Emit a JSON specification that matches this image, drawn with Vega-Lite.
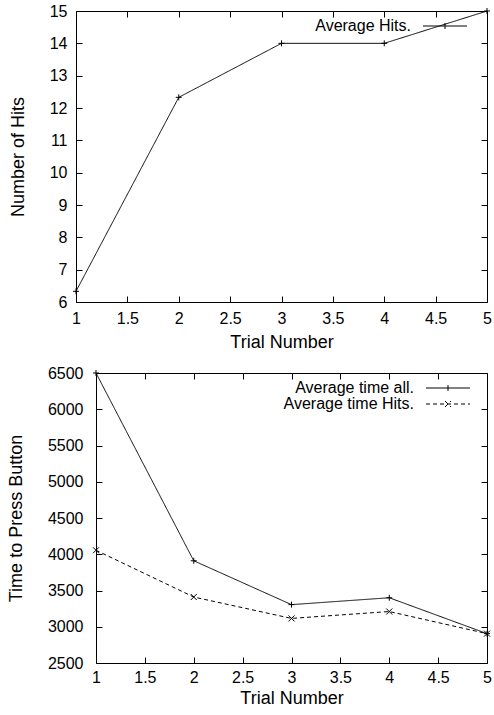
{
  "$schema": "https://vega.github.io/schema/vega-lite/v6.json",
  "background": "white",
  "padding": {"left": 7, "top": 2, "right": 0, "bottom": 0},
  "datasets": {
    "hits": [
      {"series": "Average Hits.", "trial": 1, "value": 6.33},
      {"series": "Average Hits.", "trial": 2, "value": 12.33},
      {"series": "Average Hits.", "trial": 3, "value": 14},
      {"series": "Average Hits.", "trial": 4, "value": 14},
      {"series": "Average Hits.", "trial": 5, "value": 15}
    ],
    "times": [
      {"series": "Average time all.", "trial": 1, "value": 6500},
      {"series": "Average time all.", "trial": 2, "value": 3910},
      {"series": "Average time all.", "trial": 3, "value": 3305},
      {"series": "Average time all.", "trial": 4, "value": 3400},
      {"series": "Average time all.", "trial": 5, "value": 2905},
      {"series": "Average time Hits.", "trial": 1, "value": 4055},
      {"series": "Average time Hits.", "trial": 2, "value": 3410},
      {"series": "Average time Hits.", "trial": 3, "value": 3115},
      {"series": "Average time Hits.", "trial": 4, "value": 3210},
      {"series": "Average time Hits.", "trial": 5, "value": 2905}
    ]
  },
  "config": {
    "font": "Liberation Sans",
    "view": {"stroke": "black", "strokeWidth": 1},
    "axis": {
      "grid": false,
      "domain": false,
      "domainColor": "black",
      "domainWidth": 1,
      "tickColor": "black",
      "tickSize": -6,
      "labelColor": "black",
      "titleColor": "black",
      "labelFont": "Liberation Sans",
      "titleFont": "Liberation Sans",
      "labelFontSize": 16,
      "titleFontSize": 18,
      "titleFontWeight": "normal",
      "labelFlush": false,
      "labelOverlap": false
    },
    "legend": {
      "title": null,
      "orient": "top-right",
      "offset": 7,
      "padding": 0,
      "labelFont": "Liberation Sans",
      "labelFontSize": 16,
      "labelColor": "black",
      "labelAlign": "right",
      "labelOffset": -42,
      "labelLimit": 300,
      "symbolSize": 225,
      "symbolStrokeWidth": 1,
      "symbolStrokeColor": "black",
      "rowPadding": 0
    }
  },
  "spacing": 13,
  "resolve": {
    "scale": {"x": "independent", "y": "independent", "strokeDash": "independent"},
    "legend": {"strokeDash": "independent"}
  },
  "vconcat": [
    {
      "width": 411,
      "height": 291,
      "data": {"name": "hits"},
      "layer": [
        {
          "mark": {"type": "line", "color": "black", "strokeWidth": 1},
          "encoding": {
            "x": {"field": "trial", "type": "quantitative", "scale": {"domain": [1, 5], "nice": false, "zero": false},
                  "axis": {"orient": "bottom", "values": [1, 1.5, 2, 2.5, 3, 3.5, 4, 4.5, 5], "format": "~f", "title": "Trial Number", "labelPadding": 14, "titlePadding": 7}},
            "y": {"field": "value", "type": "quantitative", "scale": {"domain": [6, 15], "nice": false, "zero": false},
                  "axis": {"orient": "left", "values": [6, 7, 8, 9, 10, 11, 12, 13, 14, 15], "format": "~f", "title": "Number of Hits", "labelPadding": 15, "titlePadding": 22}},
            "strokeDash": {"field": "series", "type": "nominal", "scale": {"domain": ["Average Hits."], "range": [[1, 0]]},
                  "legend": {"symbolType": "M-2.93,0H2.93M0,-0.4V0.4M4.3,0",
                             "encode": {"symbols": {"update": {"shape": {"value": "M-2.93,0H2.93M0,-0.4V0.4M4.3,0"}, "fill": {"value": "transparent"}}}}}}
          }
        },
        {
          "mark": {"type": "point", "shape": "M-1,0H1M0,-1V1", "filled": false, "color": "black", "strokeWidth": 1, "size": 36, "opacity": 1},
          "encoding": {
            "x": {"field": "trial", "type": "quantitative",
                  "axis": {"orient": "top", "values": [1, 1.5, 2, 2.5, 3, 3.5, 4, 4.5, 5], "labels": false, "title": null}},
            "y": {"field": "value", "type": "quantitative",
                  "axis": {"orient": "right", "values": [6, 7, 8, 9, 10, 11, 12, 13, 14, 15], "labels": false, "title": null}}
          }
        }
      ]
    },
    {
      "width": 411,
      "height": 290,
      "view": {"stroke": null},
      "data": {"name": "times"},
      "layer": [
        {
          "mark": {"type": "line", "color": "black", "strokeWidth": 1},
          "encoding": {
            "x": {"field": "trial", "type": "quantitative", "scale": {"domain": [1, 5], "range": [20, 411], "nice": false, "zero": false},
                  "axis": {"orient": "bottom", "domain": true, "values": [1, 1.5, 2, 2.5, 3, 3.5, 4, 4.5, 5], "format": "~f", "title": "Trial Number", "labelPadding": 12, "titlePadding": 4}},
            "y": {"field": "value", "type": "quantitative", "scale": {"domain": [2500, 6500], "nice": false, "zero": false},
                  "axis": {"orient": "left", "offset": -20, "domain": true, "values": [2500, 3000, 3500, 4000, 4500, 5000, 5500, 6000, 6500], "format": "~f", "title": "Time to Press Button", "labelPadding": 19, "titlePadding": 22}},
            "strokeDash": {"field": "series", "type": "nominal", "sort": ["Average time all.", "Average time Hits."], "scale": {"domain": ["Average time all.", "Average time Hits."], "range": [[1, 0], [4, 3]]},
                  "legend": {"symbolType": "M-2.93,0H2.93M0,-0.4V0.4M4,0",
                             "encode": {"symbols": {"update": {
                    "shape": {"signal": "datum.value === 'Average time Hits.' ? 'M-2.93,0H2.93M-0.4,-0.4L0.4,0.4M-0.4,0.4L0.4,-0.4M4,0' : 'M-2.93,0H2.93M0,-0.4V0.4M4,0'"},
                    "fill": {"value": "transparent"}}}}}}
          }
        },
        {
          "transform": [{"filter": "datum.series === 'Average time all.'"}],
          "mark": {"type": "point", "shape": "M-1,0H1M0,-1V1", "filled": false, "color": "black", "strokeWidth": 1, "size": 36, "opacity": 1},
          "encoding": {
            "x": {"field": "trial", "type": "quantitative",
                  "axis": {"orient": "top", "domain": true, "values": [1, 1.5, 2, 2.5, 3, 3.5, 4, 4.5, 5], "labels": false, "title": null}},
            "y": {"field": "value", "type": "quantitative",
                  "axis": {"orient": "right", "domain": true, "values": [2500, 3000, 3500, 4000, 4500, 5000, 5500, 6000, 6500], "labels": false, "title": null}}
          }
        },
        {
          "transform": [{"filter": "datum.series === 'Average time Hits.'"}],
          "mark": {"type": "point", "shape": "M-1,-1L1,1M-1,1L1,-1", "filled": false, "color": "black", "strokeWidth": 1, "size": 36, "opacity": 1},
          "encoding": {
            "x": {"field": "trial", "type": "quantitative", "axis": null},
            "y": {"field": "value", "type": "quantitative", "axis": null}
          }
        }
      ]
    }
  ]
}
